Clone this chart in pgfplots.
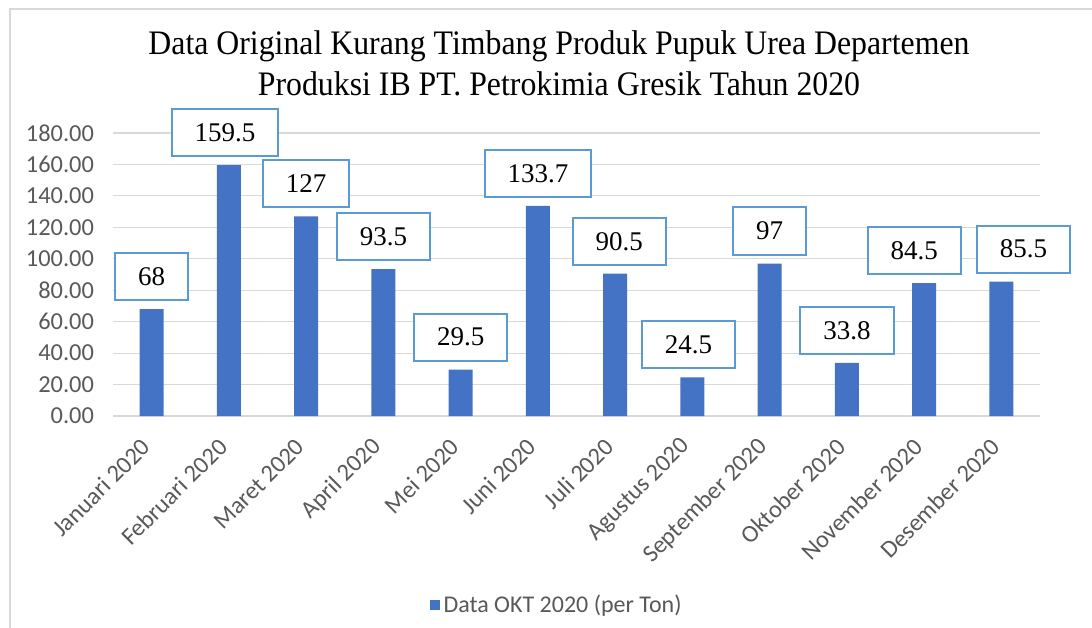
\documentclass[border=0pt]{standalone}
\usepackage{pgfplots}
\usepackage{pgfplotstable}
\pgfplotsset{compat=1.18}
\usepackage{fontspec}
\setmainfont{Liberation Serif}
\newfontfamily\carlito{Carlito}
\definecolor{barblue}{HTML}{4472C4}
\definecolor{boxblue}{HTML}{5B9BD5}
\definecolor{ticktext}{HTML}{595959}
\definecolor{gridgrey}{HTML}{D9D9D9}
\pgfplotstableread{
x y label dx
0 68 68 0
1 159.5 159.5 -2
2 127 127 0
3 93.5 93.5 0
4 29.5 29.5 0
5 133.7 133.7 0
6 90.5 90.5 2
7 24.5 24.5 -2
8 97 97 0
9 33.8 33.8 0
10 84.5 84.5 -5
11 85.5 85.5 11
}\okt
\begin{document}
\begin{tikzpicture}
\begin{axis}[
  scale only axis,
  width=463.5pt, height=141.5pt,
  ybar, bar width=12pt,
  xmin=-0.5, xmax=11.5,
  ymin=0, ymax=180,
  ytick={0,20,...,180},
  xtick={0,...,11},
  xticklabels={Januari 2020,Februari 2020,Maret 2020,April 2020,Mei 2020,Juni 2020,Juli 2020,Agustus 2020,September 2020,Oktober 2020,November 2020,Desember 2020},
  axis line style={draw=none},
  major tick length=0pt,
  ymajorgrids, grid style={gridgrey, line width=0.6pt},
  yticklabel style={font=\carlito\fontsize{12.2}{14}\selectfont, text=ticktext, xshift=-6pt},
  xticklabel style={font=\carlito\fontsize{12.2}{14}\selectfont, text=ticktext, xshift=-0.5pt, yshift=-11pt, rotate=45, anchor=east},
  /pgf/number format/.cd, fixed, fixed zerofill, precision=2, assume math mode=true,
  /pgfplots/.cd,
  point meta=explicit symbolic,
  visualization depends on={\thisrow{dx} \as \dx},
  nodes near coords,
  every node near coord/.append style={font=\fontsize{13.5}{15}\selectfont, draw=boxblue, line width=1pt, fill=white, minimum height=23.5pt, inner xsep=11.5pt, anchor=south, yshift=4pt, xshift=\dx pt, text=black},
  legend style={at={(0.48,-0.668)}, anchor=center, draw=none, font=\carlito\fontsize{12}{14}\selectfont, text=ticktext},
  legend image code/.code={\fill[barblue] (0pt,-2.3pt) rectangle (4.6pt,2.3pt);},
]
\addplot[fill=barblue, draw=none] table[x=x, y=y, meta=label] {\okt};
\addlegendentry{Data OKT 2020 (per Ton)}
\end{axis}
\node[align=center, font=\fontsize{15.9}{19}\selectfont, transform shape, yscale=1.08] at (223pt,176.5pt) {Data Original Kurang Timbang Produk Pupuk Urea Departemen\\Produksi IB PT. Petrokimia Gresik Tahun 2020};
\draw[gridgrey, line width=0.8pt] (-51.5pt,-110pt) -- (-51.5pt,203.5pt) -- (495pt,203.5pt);
\pgfresetboundingbox
\path (-56.5pt,-105.5pt) rectangle (489.5pt,208pt);
\end{tikzpicture}
\end{document}
